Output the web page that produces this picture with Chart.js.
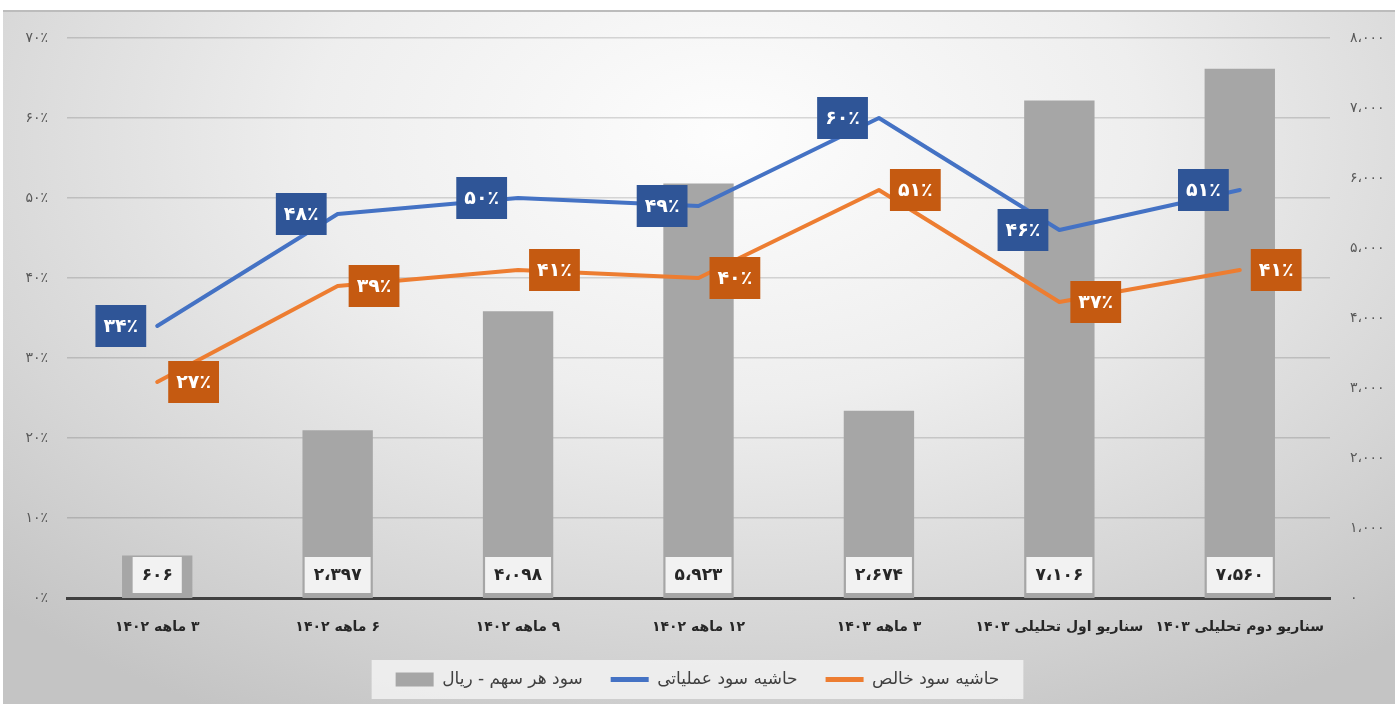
<!DOCTYPE html>
<html>
<head>
<meta charset="utf-8">
<script src="https://cdn.jsdelivr.net/npm/chart.js@4.4.1/dist/chart.umd.min.js"></script>
<style>
  html, body { margin: 0; padding: 0; background: #fff; }
  #wrap { position: relative; width: 1395px; height: 704px; overflow: hidden; }
  #bg {
    position: absolute; left: 3px; top: 10px; right: 0; bottom: 0;
    border-top: 2px solid #bcbcbc;
    background: radial-gradient(ellipse 75% 95% at 52% 18%, #fdfdfd 0%, #eeeeee 40%, #d6d6d6 75%, #c4c4c4 100%);
  }
  canvas { position: absolute; left: 0; top: 0; }
</style>
</head>
<body>
<div id="wrap">
  <div id="bg"></div>
  <canvas id="chart" width="1395" height="704"></canvas>
</div>
<script>
const categories = [
  '۳ ماهه ۱۴۰۲',
  '۶ ماهه ۱۴۰۲',
  '۹ ماهه ۱۴۰۲',
  '۱۲ ماهه ۱۴۰۲',
  '۳ ماهه ۱۴۰۳',
  'سناریو اول تحلیلی ۱۴۰۳',
  'سناریو دوم تحلیلی ۱۴۰۳'
];
const epsValues = [606, 2397, 4098, 5923, 2674, 7106, 7560];
const operatingMargin = [34, 48, 50, 49, 60, 46, 51];
const netMargin = [27, 39, 41, 40, 51, 37, 41];

const seriesNames = ['سود هر سهم - ریال', 'حاشیه سود عملیاتی', 'حاشیه سود خالص'];

const FONT = "'DejaVu Sans', sans-serif";

// persian digits
const faDigits = '۰۱۲۳۴۵۶۷۸۹';
const toFa = (v) => String(v).replace(/\d/g, d => faDigits[d]);
const faThousands = (v) => toFa(String(v).replace(/\B(?=(\d{3})+(?!\d))/g, '،'));
const rtl = (s) => '\u202B' + s + '\u202C';

const valueLabels = {
  id: 'valueLabels',
  afterDatasetsDraw(chart) {
    const ctx = chart.ctx;
    ctx.save();
    ctx.textAlign = 'center';
    ctx.textBaseline = 'middle';
    chart.data.datasets.forEach((ds, i) => {
      const meta = chart.getDatasetMeta(i);
      meta.data.forEach((el, j) => {
        if (ds.type === 'bar') {
          const txt = faThousands(ds.data[j]);
          ctx.font = 'bold 17px ' + FONT;
          const w = ctx.measureText(txt).width + 18, h = 36;
          const x = el.x - w / 2, y = el.base - 5 - h;
          ctx.fillStyle = '#f2f2f2';
          ctx.fillRect(x, y, w, h);
          ctx.fillStyle = '#262626';
          ctx.fillText(txt, el.x, y + h / 2 + 1);
        } else {
          const txt = toFa(ds.data[j]) + '٪';
          ctx.font = 'bold 19px ' + FONT;
          const w = ctx.measureText(txt).width + 16, h = 42;
          const x = ds.labelSide === 'left' ? el.x - 11 - w : el.x + 11;
          const y = el.y - h / 2;
          ctx.fillStyle = ds.labelColor;
          ctx.fillRect(x, y, w, h);
          ctx.fillStyle = '#ffffff';
          ctx.fillText(txt, x + w / 2, el.y + 1);
        }
      });
    });
    ctx.restore();
  }
};

const legendBox = {
  id: 'legendBox',
  beforeDraw(chart) {
    const boxes = chart.legend && chart.legend.legendHitBoxes;
    if (!boxes || !boxes.length) return;
    const l = Math.min(...boxes.map(b => b.left)) - 24;
    const r = Math.max(...boxes.map(b => b.left + b.width)) + 24;
    const t = Math.min(...boxes.map(b => b.top)) - 11;
    const b = Math.max(...boxes.map(b => b.top + b.height)) + 11;
    const ctx = chart.ctx;
    ctx.save();
    ctx.fillStyle = 'rgba(242,242,242,0.85)';
    ctx.fillRect(l, t, r - l, b - t);
    ctx.restore();
  }
};

new Chart(document.getElementById('chart'), {
  data: {
    labels: categories.map(rtl),
    datasets: [
      {
        type: 'bar',
        label: seriesNames[0],
        data: epsValues,
        yAxisID: 'y1',
        backgroundColor: '#a6a6a6',
        categoryPercentage: 1,
        barPercentage: 0.39,
        order: 3
      },
      {
        type: 'line',
        label: seriesNames[1],
        data: operatingMargin,
        yAxisID: 'y',
        borderColor: '#4472c4',
        backgroundColor: '#4472c4',
        borderWidth: 4,
        pointRadius: 0,
        borderJoinStyle: 'round',
        borderCapStyle: 'round',
        labelSide: 'left',
        labelColor: '#2f5597',
        order: 2
      },
      {
        type: 'line',
        label: seriesNames[2],
        data: netMargin,
        yAxisID: 'y',
        borderColor: '#ed7d31',
        backgroundColor: '#ed7d31',
        borderWidth: 4,
        pointRadius: 0,
        borderJoinStyle: 'round',
        borderCapStyle: 'round',
        labelSide: 'right',
        labelColor: '#c55a11',
        order: 1
      }
    ]
  },
  options: {
    responsive: false,
    animation: false,
    layout: { padding: { top: 38, bottom: 6, left: 0, right: 0 } },
    plugins: {
      tooltip: { enabled: false },
      legend: {
        position: 'bottom',
        reverse: true,
        labels: {
          font: { family: FONT, size: 17 },
          color: '#404040',
          usePointStyle: true,
          pointStyleWidth: 38,
          boxHeight: 14,
          padding: 28,
          generateLabels(chart) {
            const items = Chart.defaults.plugins.legend.labels.generateLabels(chart);
            items.forEach(it => {
              const ds = chart.data.datasets[it.datasetIndex];
              if (ds.type === 'bar') {
                it.pointStyle = 'rect';
                it.lineWidth = 0;
                it.fillStyle = '#a6a6a6';
              } else {
                it.pointStyle = 'line';
                it.lineWidth = 5;
                it.strokeStyle = ds.borderColor;
              }
            });
            return items;
          }
        }
      }
    },
    scales: {
      x: {
        type: 'category',
        offset: true,
        grid: { display: false, drawTicks: false },
        border: { display: true, color: '#404040', width: 3 },
        ticks: {
          font: { family: FONT, size: 14, weight: 'bold' },
          color: '#262626',
          padding: 21,
          maxRotation: 0,
          autoSkip: false
        },
        afterFit(s) { s.height = 45; }
      },
      y: {
        position: 'left',
        min: 0,
        max: 70,
        ticks: {
          stepSize: 10,
          font: { family: FONT, size: 14 },
          color: '#595959',
          padding: 19,
          callback: v => toFa(v) + '٪'
        },
        grid: { color: 'rgba(0,0,0,0.14)', lineWidth: 1.5, drawTicks: false },
        border: { display: false },
        afterFit(s) { s.width = 67; }
      },
      y1: {
        position: 'right',
        min: 0,
        max: 8000,
        ticks: {
          stepSize: 1000,
          font: { family: FONT, size: 14 },
          color: '#595959',
          padding: 20,
          callback: v => faThousands(v)
        },
        grid: { display: false, drawTicks: false },
        border: { display: false },
        afterFit(s) { s.width = 65; }
      }
    }
  },
  plugins: [legendBox, valueLabels]
});
</script>
</body>
</html>
